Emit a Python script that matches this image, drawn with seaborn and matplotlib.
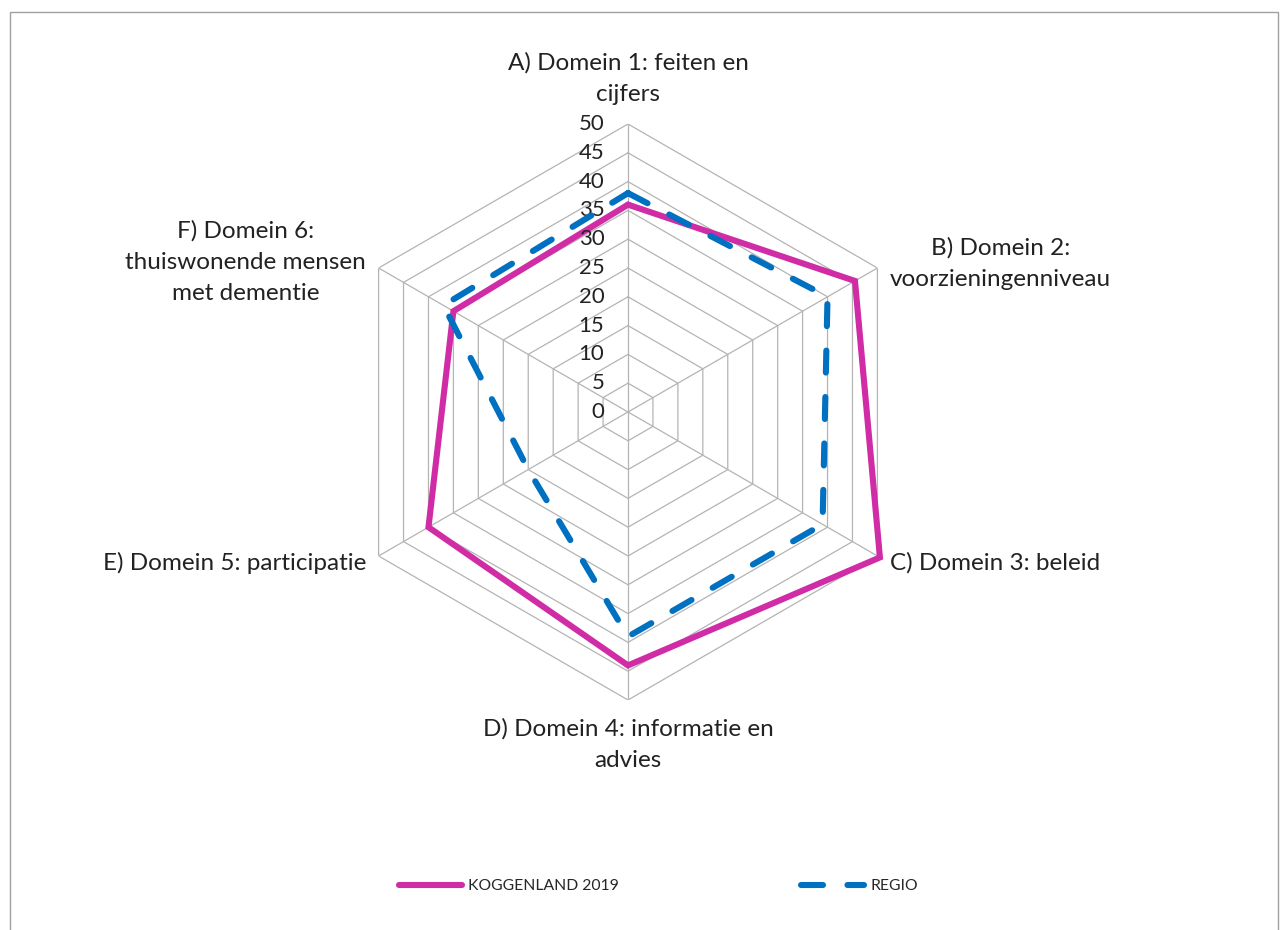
import numpy as np
import pandas as pd
import matplotlib.pyplot as plt
import matplotlib.patches as patches
from matplotlib.lines import Line2D
import seaborn as sns

# Data
categories = ['A) Domein 1: feiten en\ncijfers',
              'B) Domein 2:\nvoorzieningenniveau',
              'C) Domein 3: beleid',
              'D) Domein 4: informatie en\nadvies',
              'E) Domein 5: participatie',
              'F) Domein 6:\nthuiswonende mensen\nmet dementie']
koggenland = [36, 45.5, 50.5, 44, 40, 35]
regio = [38, 40, 39, 39, 20, 37]
r_ticks = [0, 5, 10, 15, 20, 25, 30, 35, 40, 45, 50]

pink = '#D02CA6'
blue = '#0070C0'
grid_col = '#B4B4B4'

sns.set_style('white')
plt.rcParams['font.family'] = ['Lato', 'DejaVu Sans']

n = len(categories)
theta = np.arange(n) * 2 * np.pi / n
theta_closed = np.append(theta, 2 * np.pi)

fig = plt.figure(figsize=(12.84, 9.3), dpi=100)
ax = fig.add_axes([0.2648, 0.2473, 0.4486, 0.6194], projection='polar')
ax.set_theta_zero_location('N')
ax.set_theta_direction(-1)
ax.set_ylim(0, 50)
ax.grid(False)
ax.set_xticks([])
ax.set_yticks([])
ax.spines['polar'].set_visible(False)
ax.patch.set_alpha(0)

# hexagonal grid
for r in r_ticks[1:]:
    ax.plot(theta_closed, [r] * (n + 1), color=grid_col, lw=0.9, zorder=1)
for t in theta:
    ax.plot([t, t], [0, 50], color=grid_col, lw=0.9, zorder=1)

# series
df_k = pd.DataFrame({'theta': theta_closed, 'value': koggenland + koggenland[:1]})
df_r = pd.DataFrame({'theta': theta_closed, 'value': regio + regio[:1]})
sns.lineplot(data=df_k, x='theta', y='value', sort=False, ax=ax, color=pink,
             lw=4.4, zorder=3, clip_on=False)
sns.lineplot(data=df_r, x='theta', y='value', sort=False, ax=ax, color=blue,
             lw=4.4, zorder=4, clip_on=False, dashes=False)
line_r = ax.get_lines()[-1]
line_r.set_dashes((3.6, 4.0))
line_r.set_dash_capstyle('round')
ax.get_lines()[-2].set_solid_joinstyle('miter')
ax.set_xlabel('')
ax.set_ylabel('')

# radial labels
for r in r_ticks:
    ax.annotate(str(r), xy=(0, r), xytext=(-17, 0), textcoords='offset points',
                ha='right', va='center', fontsize=16, color='#222222',
                annotation_clip=False)

# category labels
offsets = [((0, 14), 'center', 'bottom'),
           ((9, 3), 'left', 'center'),
           ((9, -5), 'left', 'center'),
           ((0, -13), 'center', 'top'),
           ((-9, -5), 'right', 'center'),
           ((-9, 4), 'right', 'center')]
for t, lab, (off, ha, va) in zip(theta, categories, offsets):
    ax.annotate(lab, xy=(t, 50), xytext=off, textcoords='offset points',
                ha=ha, va=va, multialignment='center', fontsize=17.5,
                color='#222222', linespacing=1.6, annotation_clip=False)

# legend
handles = [Line2D([], [], color=pink, lw=4.4, solid_capstyle='round'),
           Line2D([], [], color=blue, lw=4.4, dashes=(3.6, 4.0),
                  dash_capstyle='round')]
fig.legend(handles, ['KOGGENLAND 2019', 'REGIO'], loc='center',
           bbox_to_anchor=(0.513, 0.047), ncol=2, frameon=False,
           fontsize=11.3, handlelength=4.0, columnspacing=11.6, handletextpad=0.4)

# chart border
fig.patches.append(patches.Rectangle((0.008, -0.02), 0.987, 1.007,
                                     transform=fig.transFigure, fill=False,
                                     edgecolor='#A0A0A0', lw=1))

fig.savefig('out.png', dpi=100)
